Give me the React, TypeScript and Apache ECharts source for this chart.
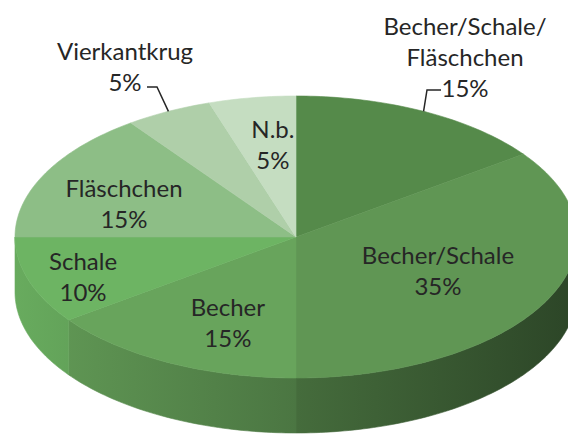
import React, { useEffect, useRef } from "react";
import * as echarts from "echarts";

const categories = [
  "Becher/Schale/Fläschchen",
  "Becher/Schale",
  "Becher",
  "Schale",
  "Fläschchen",
  "Vierkantkrug",
  "N.b.",
];
const values = [15, 35, 15, 10, 15, 5, 5];
const labelTexts = [
  "Becher/Schale/\nFläschchen\n15%",
  "Becher/Schale\n35%",
  "Becher\n15%",
  "Schale\n10%",
  "Fläschchen\n15%",
  "Vierkantkrug\n5%",
  "N.b.\n5%",
];
const colors = ["#558A4A", "#609654", "#68A45C", "#6DB463", "#8DBE86", "#AFCFA9", "#C5DDC1"];

// layout (pixels)
const CX = 296, CY = 237, RX = 281, RY = 141, DEPTH = 55;
const FONT = '24px Lato, "Open Sans", sans-serif';
const TEXT = "#262626";
// inside labels: [radius fraction, angle tweak deg]; outside: leader + text anchor
const labelLayout: any[] = [
  { outside: true, elbow: [427, 90], end: [441, 90], text: [465, 56] },
  { frac: 0.557, dAng: -2.1 },
  { frac: 0.65, dAng: -5.1 },
  { frac: 0.807, dAng: -2.1 },
  { frac: 0.658, dAng: -5.5 },
  { outside: true, elbow: [157, 87], end: [147, 87], text: [125, 66] },
  { frac: 0.665, dAng: 1.9 },
];

function shade(hex: string, f: number) {
  const n = parseInt(hex.slice(1), 16);
  const r = Math.round(((n >> 16) & 255) * f);
  const g = Math.round(((n >> 8) & 255) * f);
  const b = Math.round((n & 255) * f);
  return `rgb(${r},${g},${b})`;
}

function pt(deg: number, fx = 1, fy = 1, dy = 0) {
  const t = (deg * Math.PI) / 180;
  return [CX + RX * fx * Math.sin(t), CY - RY * fy * Math.cos(t) + dy];
}

function arc(a: number, b: number, dy = 0) {
  const pts: number[][] = [];
  const n = Math.max(2, Math.ceil(Math.abs(b - a)));
  for (let i = 0; i <= n; i++) pts.push(pt(a + ((b - a) * i) / n, 1, 1, dy));
  return pts;
}

export default function App() {
  const ref = useRef<HTMLDivElement>(null);
  useEffect(() => {
    if (!ref.current) return;
    const chart = echarts.init(ref.current, undefined, { renderer: "svg" });
    const total = values.reduce((s, v) => s + v, 0);
    const starts: number[] = [];
    let acc = 0;
    values.forEach((v) => {
      starts.push((acc / total) * 360);
      acc += v;
    });

    const renderItem = (params: any, api: any) => {
      const i = params.dataIndex;
      const v = api.value(0);
      const a = starts[i];
      const b = a + (v / total) * 360;
      const c = colors[i];
      const children: any[] = [];
      // side (front half only)
      const s = Math.max(a, 90), e = Math.min(b, 270);
      if (e > s) {
        const top = arc(s, e);
        const bot = arc(s, e, DEPTH).reverse();
        const grad = {
          type: "linear", x: CX - RX, y: 0, x2: CX + RX, y2: 0, global: true,
          colorStops: [
            { offset: 0, color: shade(c, 0.95) },
            { offset: 0.5, color: shade(c, 0.72) },
            { offset: 1, color: shade(c, 0.46) },
          ],
        };
        children.push({
          type: "polygon",
          shape: { points: top.concat(bot) },
          style: { fill: grad, stroke: grad, lineWidth: 0.6 },
        });
      }
      // top
      children.push({
        type: "polygon",
        shape: { points: [[CX, CY]].concat(arc(a, b)) },
        style: { fill: c, stroke: c, lineWidth: 0.6 },
      });
      // label
      const L = labelLayout[i];
      const mid = (a + b) / 2;
      if (L.outside) {
        const rim = pt(mid);
        children.push({
          type: "polyline",
          shape: { points: [rim, L.elbow, L.end] },
          style: { stroke: TEXT, lineWidth: 1.5, fill: null },
        });
        children.push({
          type: "text",
          x: L.text[0], y: L.text[1],
          style: { text: labelTexts[i], fill: TEXT, font: FONT, align: "center", verticalAlign: "middle", lineHeight: 31 },
        });
      } else {
        const p = pt(mid + L.dAng, L.frac, L.frac);
        children.push({
          type: "text",
          x: p[0], y: p[1],
          style: { text: labelTexts[i], fill: TEXT, font: FONT, align: "center", verticalAlign: "middle", lineHeight: 31 },
        });
      }
      return { type: "group", children };
    };

    chart.setOption({
      animation: false,
      backgroundColor: "#ffffff",
      series: [
        {
          type: "custom",
          coordinateSystem: "none",
          renderItem,
          data: values.map((v, i) => ({ value: [v], name: categories[i] })),
        },
      ],
    });
    return () => chart.dispose();
  }, []);
  return (
    <div
      ref={ref}
      style={{ position: "absolute", left: 0, top: 0, width: 568, height: 436 }}
    />
  );
}
